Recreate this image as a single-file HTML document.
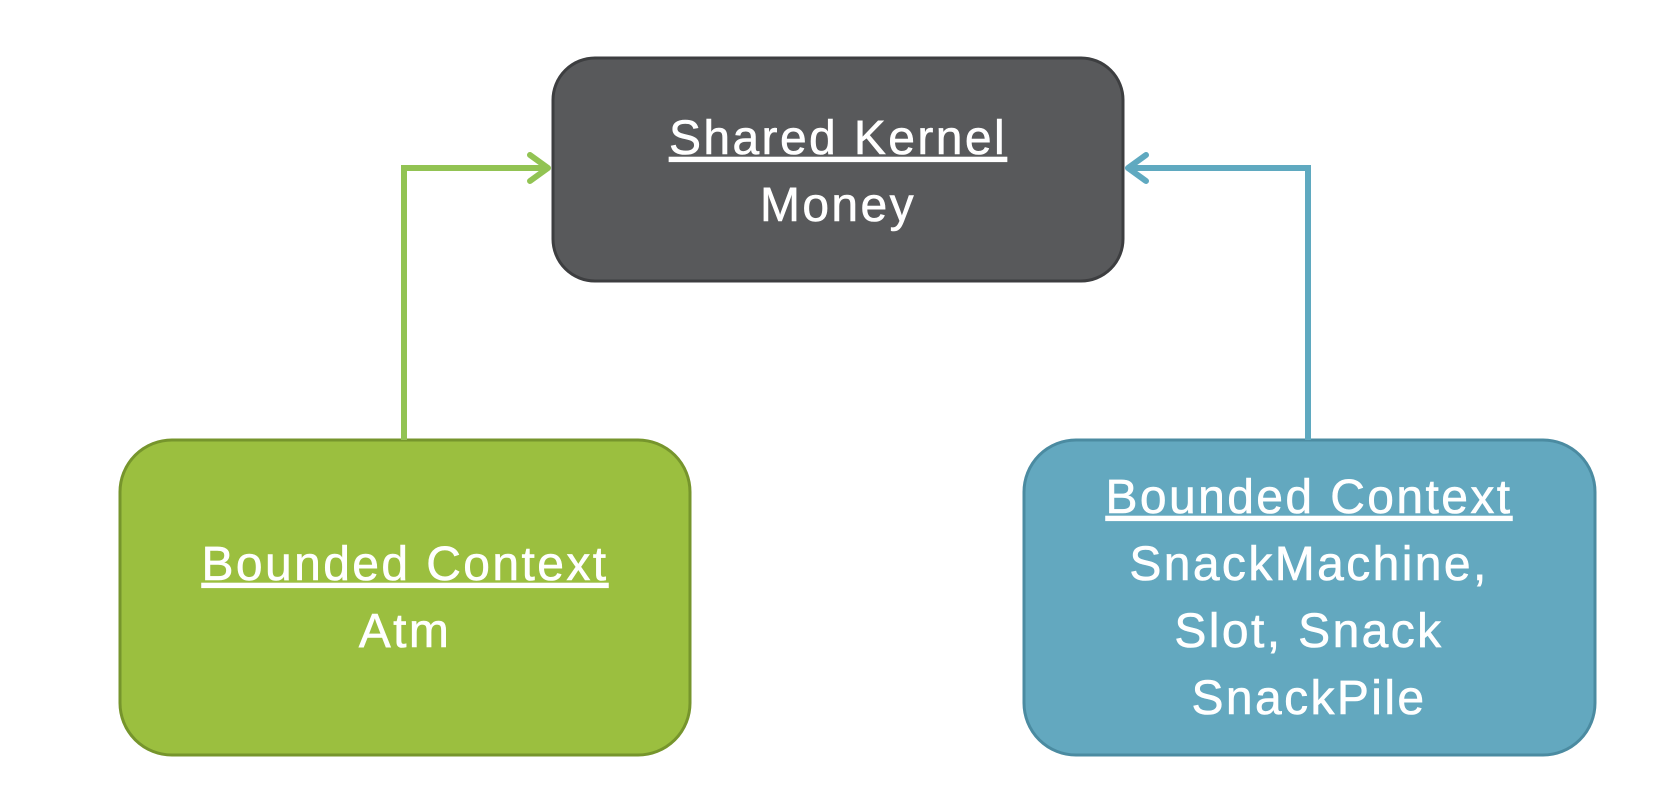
<!DOCTYPE html>
<html><head><style>
html,body{margin:0;padding:0;background:#fff;width:1674px;height:793px;overflow:hidden}
text{font-family:"Liberation Sans",sans-serif;fill:#fff;stroke:#fff;stroke-width:0.6px;font-size:48px;letter-spacing:2.4px;text-anchor:middle}
</style></head><body>
<svg width="1674" height="793" viewBox="0 0 1674 793" xmlns="http://www.w3.org/2000/svg">
<rect x="553" y="58" width="570" height="223" rx="42" fill="#58595b" stroke="#3d3e40" stroke-width="3"/>
<rect x="120" y="440" width="570" height="315" rx="52" fill="#9bbf3f" stroke="#76952c" stroke-width="3"/>
<rect x="1024" y="440" width="571" height="315" rx="52" fill="#63a8bf" stroke="#4b8ba1" stroke-width="3"/>
<polyline points="404,440 404,168 548,168" fill="none" stroke="#92c353" stroke-width="6"/>
<polyline points="530,155 548,168 530,181" fill="none" stroke="#92c353" stroke-width="6" stroke-linecap="round" stroke-linejoin="round"/>
<polyline points="1308,440 1308,168 1128,168" fill="none" stroke="#5fa9c0" stroke-width="6"/>
<polyline points="1146,155 1128,168 1146,181" fill="none" stroke="#5fa9c0" stroke-width="6" stroke-linecap="round" stroke-linejoin="round"/>
<text x="838" y="154" text-decoration="underline">Shared Kernel</text>
<text x="838" y="221">Money</text>
<text x="405" y="580" text-decoration="underline">Bounded Context</text>
<text x="405" y="647">Atm</text>
<text x="1309" y="513" text-decoration="underline">Bounded Context</text>
<text x="1309" y="580">SnackMachine,</text>
<text x="1309" y="647">Slot, Snack</text>
<text x="1309" y="714">SnackPile</text>
</svg>
</body></html>
